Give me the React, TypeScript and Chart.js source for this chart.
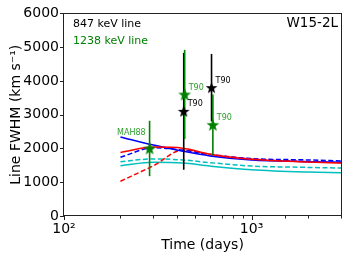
import React, { useEffect, useRef } from 'react';
import { Chart, registerables } from 'chart.js';
Chart.register(...registerables);

// ---- data ----
const modelTimes = [200, 300, 430, 600, 1000, 2000, 3000];
const redSolid = [1880, 2040, 2010, 1830, 1680, 1600, 1570];
const redDashed = [1030, 1490, 1950, 1830, 1690, 1610, 1580];
const blueSolid = [2340, 2100, 1920, 1780, 1660, 1610, 1590];
const blueDashed = [1740, 2020, 1950, 1820, 1700, 1660, 1630];
const cyanDashed = [1610, 1690, 1660, 1580, 1480, 1440, 1420];
const cyanSolid = [1490, 1590, 1570, 1480, 1370, 1300, 1280];

const blackTimes = [435, 612];
const blackValues = [3100, 3800];
const blackErrors = [1730, 1000];
const blackLabels = ['T90', 'T90'];

const greenTimes = [286, 440, 622];
const greenValues = [2000, 3600, 2700];
const greenErrors = [820, 1320, 900];
const greenLabels = ['MAH88', 'T90', 'T90'];

const yTicks = [0, 1000, 2000, 3000, 4000, 5000, 6000];
const xMajor = [100, 1000];
const xMajorLabels = ['10²', '10³'];

const FONT = '"DejaVu Sans", sans-serif';
const GREEN = '#008000';
const CYAN = '#00bfbf';

function makeStar(color: string, size: number) {
  const c = document.createElement('canvas');
  c.width = size;
  c.height = size;
  const ctx = c.getContext('2d')!;
  const cx = size / 2, cy = size / 2 + 0.5, R = size / 2 - 0.3, r = R * 0.42;
  ctx.beginPath();
  for (let i = 0; i < 10; i++) {
    const rad = i % 2 === 0 ? R : r;
    const a = -Math.PI / 2 + (i * Math.PI) / 5;
    ctx.lineTo(cx + rad * Math.cos(a), cy + rad * Math.sin(a));
  }
  ctx.closePath();
  ctx.fillStyle = color;
  ctx.fill();
  return c;
}

const pts = (xs: number[], ys: number[]) => xs.map((x, i) => ({ x, y: ys[i] }));

const overlay = {
  id: 'overlay',
  beforeDatasetDraw(chart: any, args: any) {
    if (args.index !== 1) return;
    const xs = chart.scales.x, ys = chart.scales.y, ctx = chart.ctx;
    ctx.save();
    ctx.lineWidth = 1.6;
    const bars = (times: number[], vals: number[], errs: number[], color: string) => {
      ctx.strokeStyle = color;
      times.forEach((t, i) => {
        const x = xs.getPixelForValue(t);
        ctx.beginPath();
        ctx.moveTo(x, ys.getPixelForValue(vals[i] + errs[i]));
        ctx.lineTo(x, ys.getPixelForValue(vals[i] - errs[i]));
        ctx.stroke();
      });
    };
    bars(blackTimes, blackValues, blackErrors, '#000');
    bars(greenTimes, greenValues, greenErrors, GREEN);
    ctx.restore();
  },
  afterDraw(chart: any) {
    const { ctx, chartArea: a } = chart;
    const xs = chart.scales.x, ys = chart.scales.y;
    ctx.save();
    // frame
    ctx.strokeStyle = '#222';
    ctx.lineWidth = 1;
    ctx.strokeRect(Math.round(a.left) - 0.5, Math.round(a.top) + 0.5, Math.round(a.right - a.left) + 1, Math.round(a.bottom - a.top) - 1);
    // y ticks
    ctx.beginPath();
    yTicks.forEach((v) => {
      const y = Math.round(ys.getPixelForValue(v)) + 0.5;
      ctx.moveTo(a.left - 4, y);
      ctx.lineTo(a.left, y);
    });
    // x ticks
    xs.ticks.forEach((t: any) => {
      const x = Math.round(xs.getPixelForValue(t.value)) + 0.5;
      const major = xMajor.includes(t.value);
      ctx.moveTo(x, a.bottom);
      ctx.lineTo(x, a.bottom + (major ? 4 : 2.5));
    });
    ctx.stroke();

    // point labels
    ctx.font = '8px ' + FONT;
    ctx.textBaseline = 'middle';
    ctx.fillStyle = '#000';
    ctx.textAlign = 'left';
    blackTimes.forEach((t, i) => {
      ctx.fillText(blackLabels[i], xs.getPixelForValue(t) + 4, ys.getPixelForValue(blackValues[i]) - 7);
    });
    ctx.fillStyle = '#2ca02c';
    greenTimes.forEach((t, i) => {
      const x = xs.getPixelForValue(t), y = ys.getPixelForValue(greenValues[i]);
      if (greenLabels[i] === 'MAH88') {
        ctx.textAlign = 'right';
        ctx.fillText(greenLabels[i], x - 4, y - 16);
      } else {
        ctx.textAlign = 'left';
        ctx.fillText(greenLabels[i], x + 4, y - 7);
      }
    });

    // legend texts
    ctx.textAlign = 'left';
    ctx.font = '11px ' + FONT;
    ctx.fillStyle = '#000';
    ctx.fillText('847 keV line', a.left + 9, 24);
    ctx.fillStyle = GREEN;
    ctx.fillText('1238 keV line', a.left + 9, 41);
    ctx.textAlign = 'right';
    ctx.fillStyle = '#000';
    ctx.font = '13.5px ' + FONT;
    ctx.fillText('W15-2L', a.right - 3, 23);

    // axis titles
    ctx.font = '14px ' + FONT;
    ctx.textAlign = 'center';
    ctx.fillText('Time (days)', (a.left + a.right) / 2, 245);
    ctx.save();
    ctx.translate(16, (a.top + a.bottom) / 2);
    ctx.rotate(-Math.PI / 2);
    ctx.fillText('Line FWHM (km s\u207B\u00B9)', 0, 0);
    ctx.restore();
    ctx.restore();
  },
};

export default function App() {
  const ref = useRef<HTMLCanvasElement>(null);
  useEffect(() => {
    document.body.style.margin = '0';
    const blackStar = makeStar('#000', 13);
    const greenStar = makeStar(GREEN, 14);
    const line = (data: number[], color: string, dashed: boolean) => ({
      type: 'line' as const,
      data: pts(modelTimes, data),
      borderColor: color,
      borderWidth: 1.5,
      borderDash: dashed ? [5, 2.5] : [],
      pointRadius: 0,
      fill: false,
      cubicInterpolationMode: 'monotone' as const,
    });
    const chart = new Chart(ref.current!, {
      type: 'scatter',
      data: {
        datasets: [
          { data: pts(greenTimes, greenValues), pointStyle: greenStar as any, pointRadius: 7, backgroundColor: GREEN, borderColor: GREEN },
          { data: pts(blackTimes, blackValues), pointStyle: blackStar as any, pointRadius: 7, backgroundColor: '#000', borderColor: '#000' },
          line(redSolid, '#ff0000', false),
          line(blueDashed, '#0000ff', true),
          line(blueSolid, '#0000ff', false),
          line(redDashed, '#ff0000', true),
          line(cyanDashed, CYAN, true),
          line(cyanSolid, CYAN, false),
        ] as any,
      },
      options: {
        responsive: false,
        animation: false,
        events: [],
        layout: { padding: { top: 11, right: 8, left: 0, bottom: 0 } },
        plugins: { legend: { display: false }, tooltip: { enabled: false } },
        scales: {
          x: {
            type: 'logarithmic',
            min: 100,
            max: 3000,
            grid: { display: false, drawTicks: false },
            border: { display: false },
            afterFit: (s: any) => { s.height = 42; },
            ticks: {
              autoSkip: false,
              maxRotation: 0,
              padding: 5,
              color: '#000',
              font: { family: FONT, size: 14 },
              callback: (v: any) => {
                const i = xMajor.indexOf(Number(v));
                return i >= 0 ? xMajorLabels[i] : '';
              },
            },
          },
          y: {
            min: 0,
            max: 6000,
            grid: { display: false, drawTicks: false },
            border: { display: false },
            afterFit: (s: any) => { s.width = 64; },
            ticks: {
              stepSize: 1000,
              padding: 5,
              color: '#000',
              font: { family: FONT, size: 14 },
              callback: (v: any) => String(v),
            },
          },
        },
      },
      plugins: [overlay],
    });
    return () => chart.destroy();
  }, []);
  return (
    <div style={{ width: 349, height: 258 }}>
      <canvas ref={ref} width={349} height={258} style={{ display: 'block' }} />
    </div>
  );
}
